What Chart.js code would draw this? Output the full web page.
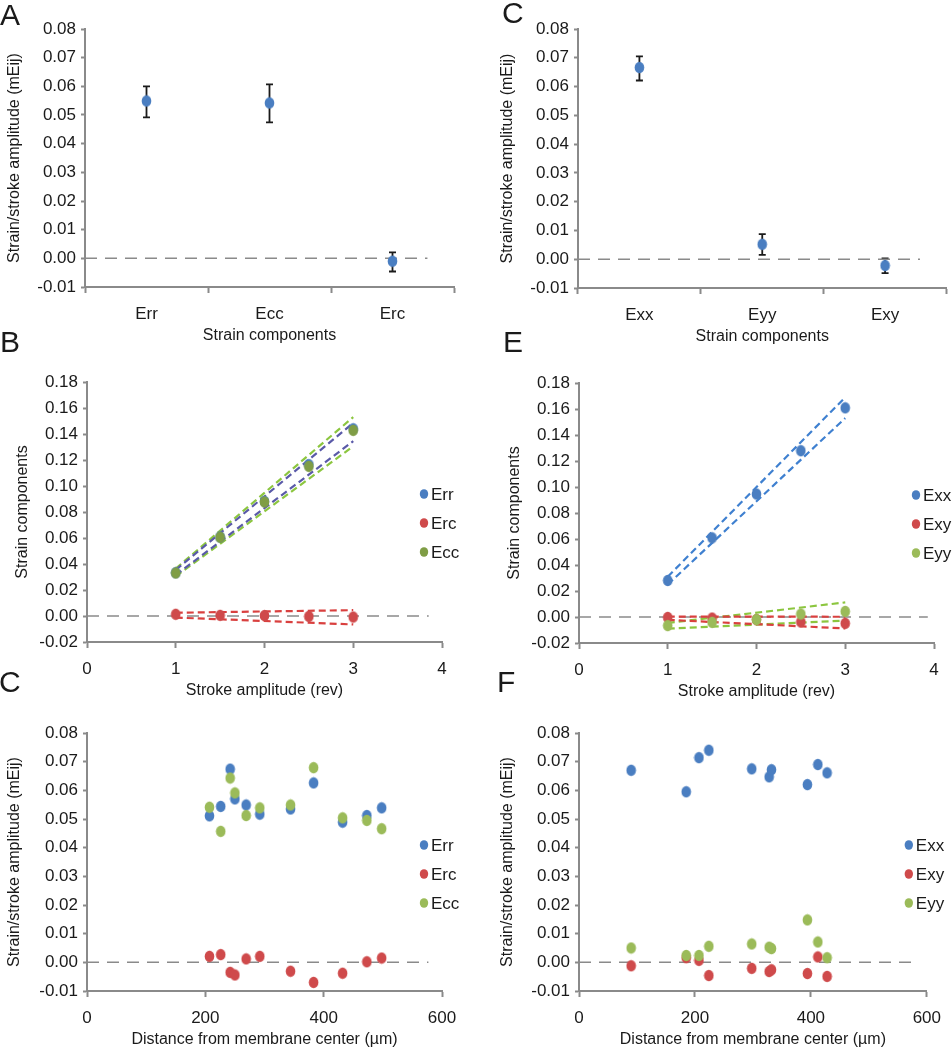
<!DOCTYPE html>
<html>
<head>
<meta charset="utf-8">
<script src="https://cdn.jsdelivr.net/npm/chart.js@4.4.1/dist/chart.umd.min.js"></script>
<style>
  body { margin: 0; background: #fff; }
  #figura { position: relative; width: 952px; height: 1050px; overflow: hidden; font-family: 'Liberation Sans', Arial, sans-serif; }
  .panel { position: absolute; }
  .letra { position: absolute; font-size: 30px; line-height: 30px; color: #1a1a1a; }
</style>
</head>
<body>
<div id="figura">
  <div class="panel" style="left:0;top:0;width:476px;height:345px"><canvas id="chartA"></canvas></div>
  <div class="panel" style="left:476px;top:0;width:476px;height:346px"><canvas id="chartCt"></canvas></div>
  <div class="panel" style="left:0;top:340px;width:476px;height:360px"><canvas id="chartB"></canvas></div>
  <div class="panel" style="left:476px;top:340px;width:476px;height:361px"><canvas id="chartE"></canvas></div>
  <div class="panel" style="left:0;top:690px;width:476px;height:359px"><canvas id="chartCb"></canvas></div>
  <div class="panel" style="left:476px;top:690px;width:476px;height:359px"><canvas id="chartF"></canvas></div>
  <div class="letra" style="left:0;top:0">A</div>
  <div class="letra" style="left:502px;top:-2px">C</div>
  <div class="letra" style="left:0;top:327px">B</div>
  <div class="letra" style="left:503px;top:327px">E</div>
  <div class="letra" style="left:-1px;top:667px">C</div>
  <div class="letra" style="left:497px;top:667px">F</div>
</div>
<script>
// ---- DATA ----
// Panel A
var catsA = ['Err', 'Ecc', 'Erc'];
var meanA = [0.0549, 0.0542, -0.0010];
var lowA = [0.0492, 0.0474, -0.0046];
var highA = [0.0600, 0.0607, 0.0021];

// Panel C (top)
var catsCt = ['Exx', 'Eyy', 'Exy'];
var meanCt = [0.0666, 0.0052, -0.0022];
var lowCt = [0.0621, 0.0015, -0.0048];
var highCt = [0.0705, 0.0087, 0.0003];

// Panel B
var strokeB = [1, 1.5, 2, 2.5, 3];
var errB = [0.0333, 0.0608, 0.0882, 0.1164, 0.1440];
var ercB = [0.0013, 0.0005, 0.0003, -0.0003, -0.0008];
var eccB = [0.0331, 0.0606, 0.0877, 0.1151, 0.1428];
var bandX = [1, 3];
var errUpB = [0.0355, 0.1485];
var errLoB = [0.0315, 0.1345];
var eccUpB = [0.0365, 0.1530];
var eccLoB = [0.0305, 0.1305];
var ercUpB = [0.0025, 0.0045];
var ercLoB = [-0.0012, -0.0065];

// Panel E
var strokeE = [1, 1.5, 2, 2.5, 3];
var exxE = [0.0281, 0.0609, 0.0946, 0.1279, 0.1609];
var exyE = [-0.0003, -0.0008, -0.0020, -0.0038, -0.0049];
var eyyE = [-0.0066, -0.0041, -0.0020, 0.0023, 0.0043];
var exxUpE = [0.0310, 0.1690];
var exxLoE = [0.0250, 0.1530];
var exyUpE = [0.0003, 0.0002];
var exyLoE = [-0.0022, -0.0088];
var eyyUpE = [-0.0045, 0.0112];
var eyyLoE = [-0.0090, -0.0028];

// Panel C (bottom)
var distC = [207, 226, 242, 250, 269, 292, 344, 383, 432, 473, 498];
var errC = [0.0511, 0.0544, 0.0674, 0.0570, 0.0549, 0.0517, 0.0535, 0.0626, 0.0489, 0.0512, 0.0539];
var ercC = [0.0021, 0.0027, -0.0035, -0.0044, 0.0012, 0.0021, -0.0031, -0.0070, -0.0038, 0.0002, 0.0015];
var eccC = [0.0541, 0.0457, 0.0643, 0.0591, 0.0512, 0.0539, 0.0549, 0.0679, 0.0504, 0.0495, 0.0466];

// Panel F
var distF = [90, 185, 207, 224, 298, 328, 332, 394, 412, 428];
var exxF = [0.0670, 0.0595, 0.0714, 0.0740, 0.0675, 0.0647, 0.0672, 0.0620, 0.0690, 0.0661];
var exyF = [-0.0012, 0.0016, 0.0007, -0.0046, -0.0021, -0.0032, -0.0026, -0.0039, 0.0019, -0.0049];
var eyyF = [0.0050, 0.0024, 0.0024, 0.0056, 0.0064, 0.0053, 0.0048, 0.0148, 0.0071, 0.0016];

// ---- ESTILOS ----
var AZUL = '#4a7ec1';
var ROJO = '#cf4a4b';
var VERDE = '#9bbb59';
var VERDE_OSC = '#7f9d45';
var GRIS = '#8a8a8a';
var FUENTE = "'Liberation Sans', Arial, sans-serif";

Chart.defaults.font.family = FUENTE;
Chart.defaults.color = '#1a1a1a';
Chart.defaults.animation = false;

function pares(xs, ys) {
    return xs.map(function (x, i) { return { x: x, y: ys[i] }; });
}

// slightly tall oval marker, like the original figure
function elipse(color) {
    var c = document.createElement('canvas');
    c.width = 11;
    c.height = 13;
    var g = c.getContext('2d');
    g.beginPath();
    g.ellipse(5.5, 6.5, 4.8, 5.8, 0, 0, 2 * Math.PI);
    g.fillStyle = color;
    g.fill();
    return c;
}

// error bars for panels A / C
var errorBarsPlugin = {
    id: 'errorBars',
    beforeDatasetsDraw: function (chart, args, opts) {
        if (!opts.low) return;
        var ctx = chart.ctx;
        var meta = chart.getDatasetMeta(0);
        var y = chart.scales.y;
        ctx.save();
        ctx.strokeStyle = '#1a1a1a';
        ctx.lineWidth = 1.8;
        for (var i = 0; i < meta.data.length; i++) {
            var x = meta.data[i].x;
            var yl = y.getPixelForValue(opts.low[i]);
            var yh = y.getPixelForValue(opts.high[i]);
            ctx.beginPath();
            ctx.moveTo(x, yl); ctx.lineTo(x, yh);
            ctx.moveTo(x - 3.5, yl); ctx.lineTo(x + 3.5, yl);
            ctx.moveTo(x - 3.5, yh); ctx.lineTo(x + 3.5, yh);
            ctx.stroke();
        }
        ctx.restore();
    }
};

// dashed zero line for category panels
var zeroLinePlugin = {
    id: 'zeroLine',
    beforeDatasetsDraw: function (chart, args, opts) {
        if (!opts.fraction) return;
        var ctx = chart.ctx;
        var area = chart.chartArea;
        var y0 = chart.scales.y.getPixelForValue(0);
        ctx.save();
        ctx.strokeStyle = GRIS;
        ctx.lineWidth = 1.5;
        ctx.setLineDash([12, 8]);
        ctx.beginPath();
        ctx.moveTo(area.left, y0);
        ctx.lineTo(area.left + opts.fraction * (area.right - area.left), y0);
        ctx.stroke();
        ctx.restore();
    }
};

// legend on the right side of the plot
var sideLegendPlugin = {
    id: 'sideLegend',
    afterDraw: function (chart, args, opts) {
        if (!opts.items) return;
        var ctx = chart.ctx;
        var area = chart.chartArea;
        ctx.save();
        ctx.font = '17px ' + FUENTE;
        ctx.textBaseline = 'middle';
        opts.items.forEach(function (it, i) {
            var x = area.right - 18;
            var y = area.top + 112 + i * 29;
            ctx.beginPath();
            ctx.ellipse(x, y, 4.2, 4.8, 0, 0, 2 * Math.PI);
            ctx.fillStyle = it.color;
            ctx.fill();
            ctx.fillStyle = '#1a1a1a';
            ctx.fillText(it.label, x + 7, y + 1);
        });
        ctx.restore();
    }
};

Chart.register(errorBarsPlugin, zeroLinePlugin, sideLegendPlugin);

function ejeY(min, max, step, ancho, titulo, padTitulo) {
    return {
        type: 'linear',
        min: min, max: max,
        ticks: {
            stepSize: step,
            padding: 5,
            font: { size: 17 },
            callback: function (v) {
                if (Math.abs(v) < 1e-9) v = 0;
                return Number(v).toFixed(2);
            }
        },
        grid: { drawOnChartArea: false, drawTicks: true, tickLength: 4, tickWidth: 2, tickColor: GRIS },
        border: { display: true, color: GRIS, width: 2 },
        title: { display: true, text: titulo, font: { size: 16 }, padding: { top: padTitulo, bottom: 0 } },
        afterFit: function (s) { s.width = ancho; }
    };
}

function ejeXLineal(min, max, step, titulo) {
    return {
        type: 'linear',
        min: min, max: max,
        ticks: { stepSize: step, padding: 11, font: { size: 17 } },
        grid: { drawOnChartArea: false, drawTicks: true, tickLength: 6, tickWidth: 2, tickColor: GRIS },
        border: { display: true, color: GRIS, width: 2 },
        title: { display: true, text: titulo, font: { size: 16 }, padding: { top: 0, bottom: 0 } },
        afterFit: function (s) { s.height = 58; }
    };
}

function ejeXCategoria(titulo) {
    return {
        type: 'category',
        offset: true,
        ticks: { padding: 11, font: { size: 17 } },
        grid: { offset: true, drawOnChartArea: false, drawTicks: true, tickLength: 6, tickWidth: 2, tickColor: GRIS },
        border: { display: true, color: GRIS, width: 2 },
        title: { display: true, text: titulo, font: { size: 16 }, padding: { top: 0, bottom: 0 } },
        afterFit: function (s) { s.height = 58; }
    };
}

function puntos(etiqueta, datos, color, orden) {
    return {
        label: etiqueta,
        data: datos,
        showLine: false,
        backgroundColor: color,
        borderColor: color,
        borderWidth: 0,
        pointStyle: elipse(color),
        pointRadius: 5.5,
        pointHoverRadius: 5.5,
        order: orden
    };
}

function banda(datos, color) {
    return {
        label: '',
        data: datos,
        showLine: true,
        borderColor: color,
        borderWidth: 2.2,
        borderDash: [7, 4],
        pointRadius: 0,
        fill: false,
        order: 5
    };
}

function lineaCero(xmax) {
    return {
        label: '',
        data: [{ x: 0, y: 0 }, { x: xmax, y: 0 }],
        showLine: true,
        borderColor: GRIS,
        borderWidth: 1.5,
        borderDash: [12, 8],
        pointRadius: 0,
        order: 10
    };
}

function opcionesBase(padTop, padRight) {
    return {
        responsive: true,
        maintainAspectRatio: false,
        layout: { padding: { top: padTop, right: padRight, left: 0, bottom: 0 } },
        plugins: { legend: { display: false }, tooltip: { enabled: false } }
    };
}

// ---- PANELES A y C (arriba) ----
function graficarCategorias(id, cats, media, bajo, alto, padTop, padRight, anchoY, padTitulo) {
    var opciones = opcionesBase(padTop, padRight);
    opciones.scales = {
        x: ejeXCategoria('Strain components'),
        y: ejeY(-0.01, 0.08, 0.01, anchoY, 'Strain/stroke amplitude (mEij)', padTitulo)
    };
    opciones.plugins.errorBars = { low: bajo, high: alto };
    opciones.plugins.zeroLine = { fraction: 0.928 };
    new Chart(document.getElementById(id), {
        type: 'line',
        data: {
            labels: cats,
            datasets: [puntos('mean', media, AZUL, 0)]
        },
        options: opciones
    });
}

graficarCategorias('chartA', catsA, meanA, lowA, highA, 29, 22, 85, 4.9);
graficarCategorias('chartCt', catsCt, meanCt, lowCt, highCt, 29, 5, 102, 22.4);

// ---- PANEL B ----
var opcionesB = opcionesBase(42, 34);
opcionesB.scales = {
    x: ejeXLineal(0, 4, 1, 'Stroke amplitude (rev)'),
    y: ejeY(-0.02, 0.18, 0.02, 87, 'Strain components', 13.4)
};
opcionesB.plugins.sideLegend = { items: [
    { label: 'Err', color: AZUL }, { label: 'Erc', color: ROJO }, { label: 'Ecc', color: VERDE_OSC }
] };
new Chart(document.getElementById('chartB'), {
    type: 'scatter',
    data: {
        datasets: [
            lineaCero(3.85),
            banda(pares(bandX, errUpB), '#5a5aa8'),
            banda(pares(bandX, errLoB), '#5a5aa8'),
            banda(pares(bandX, eccUpB), '#8cc63f'),
            banda(pares(bandX, eccLoB), '#8cc63f'),
            banda(pares(bandX, ercUpB), '#d9403f'),
            banda(pares(bandX, ercLoB), '#d9403f'),
            puntos('Err', pares(strokeB, errB), AZUL, 3),
            puntos('Erc', pares(strokeB, ercB), ROJO, 2),
            puntos('Ecc', pares(strokeB, eccB), VERDE_OSC, 1)
        ]
    },
    options: opcionesB
});

// ---- PANEL E ----
var opcionesE = opcionesBase(43, 18);
opcionesE.scales = {
    x: ejeXLineal(0, 4, 1, 'Stroke amplitude (rev)'),
    y: ejeY(-0.02, 0.18, 0.02, 103, 'Strain components', 29.4)
};
opcionesE.plugins.sideLegend = { items: [
    { label: 'Exx', color: AZUL }, { label: 'Exy', color: ROJO }, { label: 'Eyy', color: VERDE }
] };
new Chart(document.getElementById('chartE'), {
    type: 'scatter',
    data: {
        datasets: [
            lineaCero(3.93),
            banda(pares(bandX, exxUpE), '#3f80d0'),
            banda(pares(bandX, exxLoE), '#3f80d0'),
            banda(pares(bandX, exyUpE), '#d9403f'),
            banda(pares(bandX, exyLoE), '#d9403f'),
            banda(pares(bandX, eyyUpE), '#8cc63f'),
            banda(pares(bandX, eyyLoE), '#8cc63f'),
            puntos('Exx', pares(strokeE, exxE), AZUL, 3),
            puntos('Exy', pares(strokeE, exyE), ROJO, 2),
            puntos('Eyy', pares(strokeE, eyyE), VERDE, 1)
        ]
    },
    options: opcionesE
});

// ---- PANEL C (abajo) ----
var opcionesCb = opcionesBase(43, 34);
opcionesCb.scales = {
    x: ejeXLineal(0, 600, 200, 'Distance from membrane center (\u00b5m)'),
    y: ejeY(-0.01, 0.08, 0.01, 87, 'Strain/stroke amplitude (mEij)', 5.4)
};
opcionesCb.plugins.sideLegend = { items: [
    { label: 'Err', color: AZUL }, { label: 'Erc', color: ROJO }, { label: 'Ecc', color: VERDE }
] };
new Chart(document.getElementById('chartCb'), {
    type: 'scatter',
    data: {
        datasets: [
            lineaCero(577),
            puntos('Err', pares(distC, errC), AZUL, 3),
            puntos('Erc', pares(distC, ercC), ROJO, 2),
            puntos('Ecc', pares(distC, eccC), VERDE, 1)
        ]
    },
    options: opcionesCb
});

// ---- PANEL F ----
var opcionesF = opcionesBase(43, 19);
opcionesF.scales = {
    x: ejeXLineal(0, 600, 200, 'Distance from membrane center (\u00b5m)'),
    y: ejeY(-0.01, 0.08, 0.01, 103, 'Strain/stroke amplitude (mEij)', 22.4)
};
opcionesF.plugins.sideLegend = { items: [
    { label: 'Exx', color: AZUL }, { label: 'Exy', color: ROJO }, { label: 'Eyy', color: VERDE }
] };
new Chart(document.getElementById('chartF'), {
    type: 'scatter',
    data: {
        datasets: [
            lineaCero(580),
            puntos('Exx', pares(distF, exxF), AZUL, 3),
            puntos('Exy', pares(distF, exyF), ROJO, 2),
            puntos('Eyy', pares(distF, eyyF), VERDE, 1)
        ]
    },
    options: opcionesF
});
</script>
</body>
</html>
